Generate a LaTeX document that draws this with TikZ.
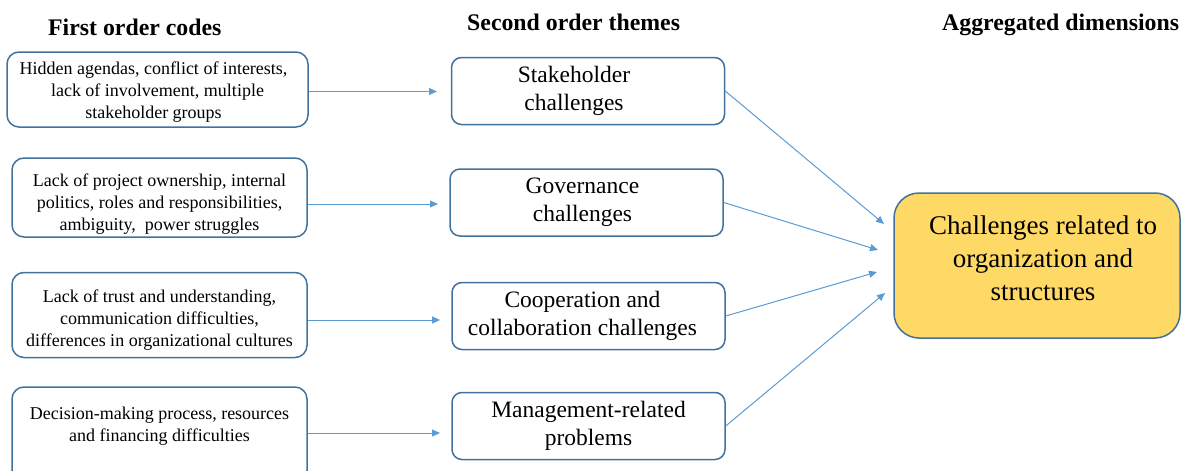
\documentclass[tikz,border=0pt]{standalone}
\usepackage{fontspec}
\setmainfont{Liberation Serif}
\usetikzlibrary{arrows.meta}
\definecolor{boxline}{HTML}{41719C}
\definecolor{linkblue}{HTML}{5B9BD5}
\definecolor{dimfill}{HTML}{FFD966}
\tikzset{
codebox/.style={draw=boxline,line width=1.5pt,rounded corners=12pt,align=center,inner sep=0pt,font=\fontsize{18}{22}\selectfont},
themebox/.style={draw=boxline,line width=1.5pt,rounded corners=10pt,align=center,inner sep=0pt,minimum width=273pt,minimum height=67pt,font=\fontsize{23.5}{28}\selectfont},
dimbox/.style={draw=boxline,fill=dimfill,line width=1.5pt,rounded corners=25pt,align=center,inner sep=0pt,font=\fontsize{27}{33}\selectfont},
heading/.style={anchor=base west,inner sep=0pt,font=\bfseries\fontsize{23.8}{27}\selectfont},
link/.style={draw=linkblue,line width=1pt,-{Triangle[length=8pt,width=7pt]}}
}
\begin{document}
\begin{tikzpicture}[x=1pt,y=-1pt,line join=round]
\useasboundingbox (0,0) rectangle (1181,471);
% headings
\node[heading] (h1) at (48,35) {First order codes};
\node[heading] (h2) at (467,30) {Second order themes};
\node[heading] (h3) at (942,30) {Aggregated dimensions};
% first order codes
\node[codebox,minimum width=301pt,minimum height=75pt] (l1) at (157.5,89.5) {\rule{0pt}{17pt}Hidden agendas, conflict of interests,\hspace*{8pt}\\lack of involvement, multiple\hspace*{8pt}\\stakeholder groups\hspace*{8pt}};
\node[codebox,minimum width=295pt,minimum height=79pt] (l2) at (159.5,197.5) {\rule{0pt}{25pt}Lack of project ownership, internal\\politics, roles and responsibilities,\\ambiguity,\ \ power struggles};
\node[codebox,minimum width=295pt,minimum height=85pt] (l3) at (159.5,315) {\rule{0pt}{23pt}Lack of trust and understanding,\\communication difficulties,\\differences in organizational cultures};
\node[codebox,minimum width=295pt,minimum height=96pt] (l4) at (159.5,435) {Decision-making process, resources\\and financing difficulties\\\mbox{}};
% second order themes
\node[themebox] (m1) at (588,91) {Stakeholder\hspace*{28pt}\\challenges\hspace*{28pt}};
\node[themebox] (m2) at (586.5,202.5) {Governance\hspace*{8pt}\\challenges\hspace*{8pt}};
\node[themebox] (m3) at (588.5,316) {Cooperation and\hspace*{12pt}\\collaboration challenges\hspace*{12pt}};
\node[themebox] (m4) at (588.5,426) {Management-related\\problems};
% aggregated dimension
\node[dimbox,minimum width=286pt,minimum height=145pt] (r) at (1037,265.5) {\hspace*{12pt}Challenges related to\\\hspace*{12pt}organization and\\\hspace*{12pt}structures\\[-19pt]\mbox{}};
% arrow tips
\coordinate (t1) at (437,91.5);
\coordinate (t2) at (438,204);
\coordinate (t3) at (440,320);
\coordinate (t4) at (440,433);
\coordinate (s1) at (884,224);
\coordinate (s2) at (878,250);
\coordinate (s3) at (877,272);
\coordinate (s4) at (885,293);
\foreach \i in {1,2,3,4}
{
\draw[link] (l\i.east |- t\i)--(t\i);
\draw[link] (m\i.east)--(s\i);
}
\end{tikzpicture}
\end{document}
